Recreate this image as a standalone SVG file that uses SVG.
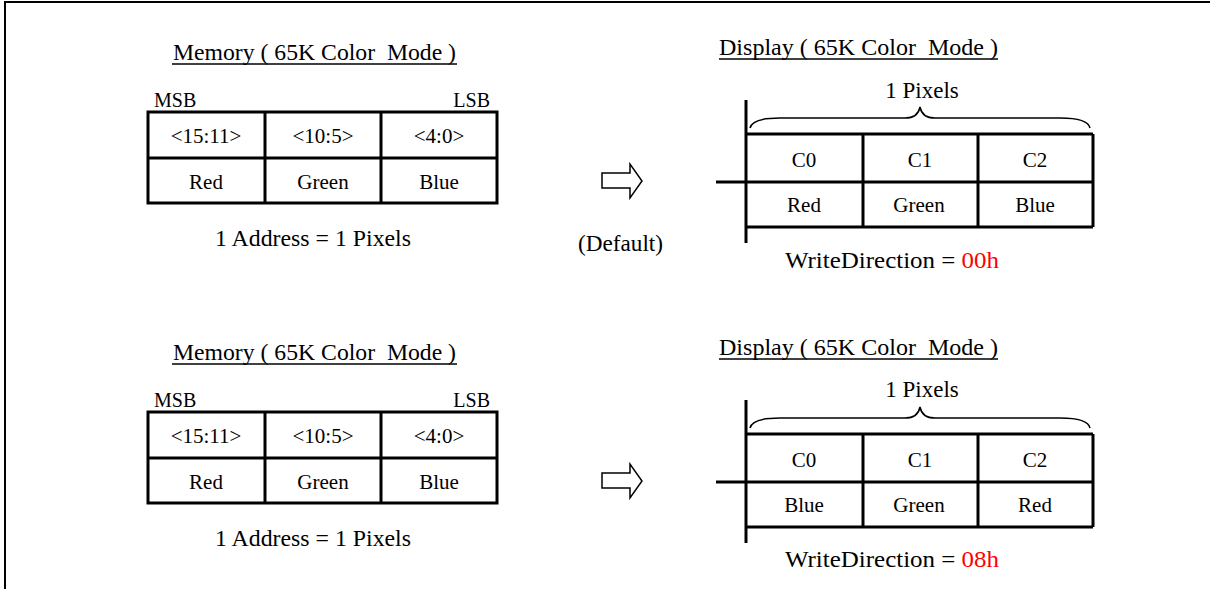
<svg xmlns="http://www.w3.org/2000/svg" width="1210" height="589" viewBox="0 0 1210 589">
<style>
text{font-family:"Liberation Serif","Times New Roman",serif;fill:#000}
.t{font-size:23px}
.s{font-size:20px}
.c{font-size:21px;text-anchor:middle}
.g{fill:none;stroke:#000;stroke-width:3}
.u{stroke:#000;stroke-width:1.5}
.red{fill:#FF0000}
</style>
<defs>
<g id="memtable">
<rect class="g" x="148" y="112" width="349" height="91"/>
<line class="g" x1="148" y1="158" x2="497" y2="158"/>
<line class="g" x1="265" y1="112" x2="265" y2="203"/>
<line class="g" x1="381" y1="112" x2="381" y2="203"/>
</g>
<g id="disptable">
<line class="g" x1="746" y1="100" x2="746" y2="243"/>
<line class="g" x1="716" y1="182" x2="1093" y2="182"/>
<line class="g" x1="746" y1="134" x2="1093" y2="134"/>
<line class="g" x1="746" y1="227" x2="1093" y2="227"/>
<line class="g" x1="1093" y1="134" x2="1093" y2="227"/>
<line class="g" x1="863" y1="134" x2="863" y2="227"/>
<line class="g" x1="978" y1="134" x2="978" y2="227"/>
<path d="M750,128 Q752,118 780,118 L905,118 Q918,118 920,107 Q922,118 935,118 L1060,118 Q1088,118 1090,128" fill="none" stroke="#000" stroke-width="1.5"/>
</g>
<path id="arrow" d="M602,173 L630,173 L630,164 L642,181 L630,198 L630,188 L602,188 Z" fill="#fff" stroke="#000" stroke-width="1.5"/>
</defs>
<rect x="5" y="2" width="1215" height="600" fill="none" stroke="#000" stroke-width="2"/>

<g id="connectors">
<use href="#arrow"/>
<use href="#arrow" transform="translate(0,300)"/>
</g>

<g id="memory-top">
<text class="t" x="173" y="60" xml:space="preserve" textLength="283" lengthAdjust="spacingAndGlyphs">Memory ( 65K Color  Mode )</text>
<line class="u" x1="172" y1="64" x2="457" y2="64"/>
<text class="s" x="154" y="107">MSB</text>
<text class="s" x="490" y="107" text-anchor="end">LSB</text>
<use href="#memtable"/>
<text class="c" x="206" y="143">&lt;15:11&gt;</text>
<text class="c" x="323" y="143">&lt;10:5&gt;</text>
<text class="c" x="439" y="143">&lt;4:0&gt;</text>
<text class="c" x="206" y="189">Red</text>
<text class="c" x="323" y="189">Green</text>
<text class="c" x="439" y="189">Blue</text>
<text class="t" x="215" y="246" textLength="196" lengthAdjust="spacingAndGlyphs">1 Address = 1 Pixels</text>
</g>

<g id="default-label">
<text class="t" x="578" y="251" textLength="85" lengthAdjust="spacingAndGlyphs">(Default)</text>
</g>

<g id="display-top">
<text class="t" x="719" y="55" xml:space="preserve" textLength="279" lengthAdjust="spacingAndGlyphs">Display ( 65K Color  Mode )</text>
<line class="u" x1="719" y1="59" x2="998" y2="59"/>
<text class="t" x="922" y="98" text-anchor="middle">1 Pixels</text>
<use href="#disptable"/>
<text class="c" x="804" y="167">C0</text>
<text class="c" x="920" y="167">C1</text>
<text class="c" x="1035" y="167">C2</text>
<text class="c" x="804" y="212">Red</text>
<text class="c" x="919" y="212">Green</text>
<text class="c" x="1035" y="212">Blue</text>
<text class="t" x="785" y="268" textLength="214" lengthAdjust="spacingAndGlyphs">WriteDirection = <tspan class="red">00h</tspan></text>
</g>

<g id="memory-bottom">
<text class="t" x="173" y="360" xml:space="preserve" textLength="283" lengthAdjust="spacingAndGlyphs">Memory ( 65K Color  Mode )</text>
<line class="u" x1="172" y1="364" x2="457" y2="364"/>
<text class="s" x="154" y="407">MSB</text>
<text class="s" x="490" y="407" text-anchor="end">LSB</text>
<use href="#memtable" transform="translate(0,300)"/>
<text class="c" x="206" y="443">&lt;15:11&gt;</text>
<text class="c" x="323" y="443">&lt;10:5&gt;</text>
<text class="c" x="439" y="443">&lt;4:0&gt;</text>
<text class="c" x="206" y="489">Red</text>
<text class="c" x="323" y="489">Green</text>
<text class="c" x="439" y="489">Blue</text>
<text class="t" x="215" y="546" textLength="196" lengthAdjust="spacingAndGlyphs">1 Address = 1 Pixels</text>
</g>

<g id="display-bottom">
<text class="t" x="719" y="355" xml:space="preserve" textLength="279" lengthAdjust="spacingAndGlyphs">Display ( 65K Color  Mode )</text>
<line class="u" x1="719" y1="359" x2="998" y2="359"/>
<text class="t" x="922" y="397" text-anchor="middle">1 Pixels</text>
<use href="#disptable" transform="translate(0,300)"/>
<text class="c" x="804" y="467">C0</text>
<text class="c" x="920" y="467">C1</text>
<text class="c" x="1035" y="467">C2</text>
<text class="c" x="804" y="512">Blue</text>
<text class="c" x="919" y="512">Green</text>
<text class="c" x="1035" y="512">Red</text>
<text class="t" x="785" y="567" textLength="214" lengthAdjust="spacingAndGlyphs">WriteDirection = <tspan class="red">08h</tspan></text>
</g>
</svg>
